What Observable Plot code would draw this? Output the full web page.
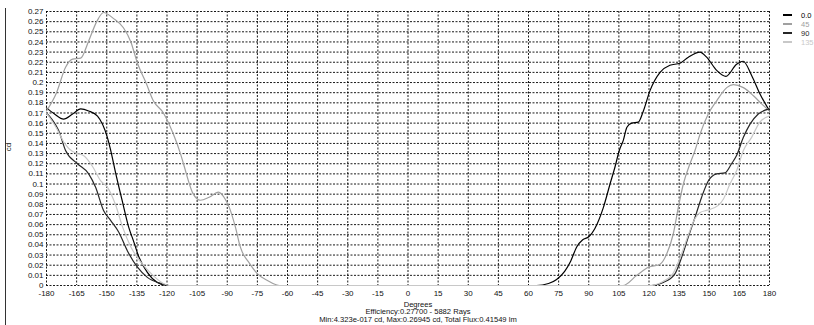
<!DOCTYPE html>
<html>
<head>
<meta charset="utf-8">
<script src="https://cdn.jsdelivr.net/npm/d3@7"></script>
<script src="https://cdn.jsdelivr.net/npm/@observablehq/plot@0.6"></script>
<style>
  body { margin: 0; background: #fff; font-family: "Liberation Sans", Arial, sans-serif; }
  #wrap { position: relative; width: 814px; height: 325px; overflow: hidden; }
  #chart { position: absolute; left: 0; top: 0; }
  .frame { position: absolute; left: 5px; top: 8px; height: 317px; border-left: 1px solid #333; }
  .ylab { position: absolute; left: 5px; top: 143px; font-size: 8px; line-height: 8px; transform: rotate(-90deg); color: #111; }
  .foot { position: absolute; left: 418px; transform: translateX(-50%); white-space: nowrap; font-size: 7.6px; line-height: 7px; color: #111; }
  .leg { position: absolute; left: 783px; font-size: 7.5px; line-height: 8px; white-space: nowrap; }
  .leg span.sw { display: inline-block; width: 9px; height: 0; border-top: 2px solid; vertical-align: middle; margin-right: 9px; position: relative; top: -1px; }
</style>
</head>
<body>
<div id="wrap">
  <div id="chart"></div>
  <div class="frame"></div>
  <div class="ylab">cd</div>
  <div class="foot" style="top:300.5px">Degrees</div>
  <div class="foot" style="top:308px">Efficiency:0.27700 - 5882 Rays</div>
  <div class="foot" style="top:315.5px">Min:4.323e-017 cd, Max:0.26945 cd, Total Flux:0.41549 lm</div>
  <div id="legend"></div>
</div>
<script>
// Series names and colors
const seriesNames = ["0.0", "45", "90", "135"];
const seriesColors = ["#000000", "#a0a0a0", "#262626", "#c8c8c8"];

// Tick values
const xTicks = [-180,-165,-150,-135,-120,-105,-90,-75,-60,-45,-30,-15,0,15,30,45,60,75,90,105,120,135,150,165,180];
const yTicks = [0,0.01,0.02,0.03,0.04,0.05,0.06,0.07,0.08,0.09,0.1,0.11,0.12,0.13,0.14,0.15,0.16,0.17,0.18,0.19,0.2,0.21,0.22,0.23,0.24,0.25,0.26,0.27];

// 0.0 C-plane
const deg0 = [-180,-176,-171.5,-167,-163,-159,-154.6,-149.7,-148,-145.7,-142,-139,-136.7,-134,-129.8,-124.8,-120,
  64,70,74,78,81,84,87,90,93,97.3,100.6,103.1,105.2,107.2,109,111.4,114.7,117.2,120.5,125.5,130.4,135.4,139.6,145.4,148.7,153.7,158.3,163.6,166.9,171.1,175.2,180];
const cd0 = [0.175,0.169,0.164,0.169,0.174,0.172,0.167,0.146,0.133,0.112,0.081,0.057,0.044,0.028,0.013,0.003,0,
  0,0.002,0.006,0.014,0.024,0.038,0.045,0.048,0.056,0.077,0.100,0.117,0.133,0.143,0.156,0.160,0.161,0.172,0.192,0.210,0.217,0.219,0.225,0.230,0.225,0.212,0.206,0.218,0.221,0.207,0.189,0.172];

// 45 C-plane
const deg45 = [-180,-175,-170.5,-167,-163,-159,-155,-151.6,-146.6,-141.7,-138,-134.7,-130.5,-126.8,-121.8,-117,-113.3,-111.8,-106.9,-103.4,-99,-94.4,-91,-89,-86,-83.5,-79,-75.2,-70,-66,-64,
  107,113.9,119.7,125.5,128.8,132.1,134.6,137.1,140.4,142.9,145.4,149.5,153.7,158.7,162,167,172,176.1,180];
const cd45 = [0.172,0.19,0.215,0.223,0.224,0.241,0.26,0.269,0.263,0.254,0.24,0.219,0.2,0.182,0.17,0.15,0.13,0.12,0.09,0.084,0.087,0.092,0.085,0.077,0.058,0.038,0.022,0.012,0.005,0.001,0,
  0,0.01,0.018,0.021,0.031,0.051,0.077,0.100,0.12,0.133,0.149,0.169,0.182,0.195,0.198,0.195,0.187,0.179,0.172];

// 90 C-plane
const deg90 = [-180,-177,-174,-170.5,-164.6,-159,-155.6,-151.6,-148,-144,-139.7,-134.7,-129.8,-123,-119,
  121.3,127.1,132.9,136.3,139.6,142.9,146.2,149.5,153.7,157.8,161.1,163.6,167,170.3,174.4,180];
const cd90 = [0.17,0.163,0.153,0.133,0.12,0.11,0.097,0.074,0.064,0.0525,0.034,0.018,0.008,0.002,0,
  0,0.003,0.0115,0.028,0.048,0.067,0.087,0.103,0.110,0.111,0.12,0.128,0.146,0.159,0.169,0.174];

// 135 C-plane
const deg135 = [-180,-175,-171,-167,-164.6,-161.6,-157,-153,-149.7,-145.7,-142,-138,-133,-127,-121.8,-119,
  120,127,132,136,139.6,142.9,145.5,148.7,154.5,157,160.3,163.6,167,171.1,175.2,180];
const cd135 = [0.17,0.155,0.14,0.132,0.13,0.128,0.117,0.103,0.097,0.08,0.057,0.038,0.023,0.010,0.002,0,
  0,0.004,0.012,0.03,0.05,0.066,0.072,0.074,0.079,0.085,0.100,0.113,0.133,0.146,0.161,0.167];

const degs = [deg0, deg45, deg90, deg135];
const cds = [cd0, cd45, cd90, cd135];
const rows = seriesNames.flatMap((s, i) => degs[i].map((d, j) => ({series: s, deg: d, cd: cds[i][j]})));

const fmtY = v => String(+v.toFixed(2));

const chart = Plot.plot({
  width: 814,
  height: 300,
  marginLeft: 46,
  marginRight: 45,
  marginTop: 11,
  marginBottom: 15,
  style: {fontFamily: "'Liberation Sans', Arial, sans-serif", fontSize: "8px", color: "#111", background: "transparent"},
  x: {domain: [-180, 180], ticks: xTicks, tickFormat: d => String(d), label: null},
  y: {domain: [0, 0.27], ticks: yTicks, tickFormat: fmtY, label: null},
  color: {domain: seriesNames, range: seriesColors},
  marks: [
    Plot.gridX(xTicks, {stroke: "#000", strokeOpacity: 0.9, strokeDasharray: "2,1.5"}),
    Plot.gridY(yTicks, {stroke: "#000", strokeOpacity: 0.9, strokeDasharray: "2,1.5"}),
    Plot.axisX(xTicks, {tickSize: 0, tickPadding: 5, tickFormat: d => String(d), fill: "#111"}),
    Plot.axisY(yTicks, {tickSize: 0, tickPadding: 3, tickFormat: fmtY, fill: "#111"}),
    Plot.line(rows, {x: "deg", y: "cd", z: "series", stroke: "series", strokeWidth: 1.2, curve: "monotone-x"})
  ]
});
document.getElementById("chart").appendChild(chart);

// Legend
const legend = document.getElementById("legend");
const legTops = [11.5, 20.5, 29.5, 38.5];
seriesNames.forEach((s, i) => {
  const el = document.createElement("div");
  el.className = "leg";
  el.style.top = legTops[i] + "px";
  el.style.color = seriesColors[i];
  el.innerHTML = `<span class="sw" style="border-color:${seriesColors[i]}"></span>${s}`;
  legend.appendChild(el);
});
</script>
</body>
</html>
